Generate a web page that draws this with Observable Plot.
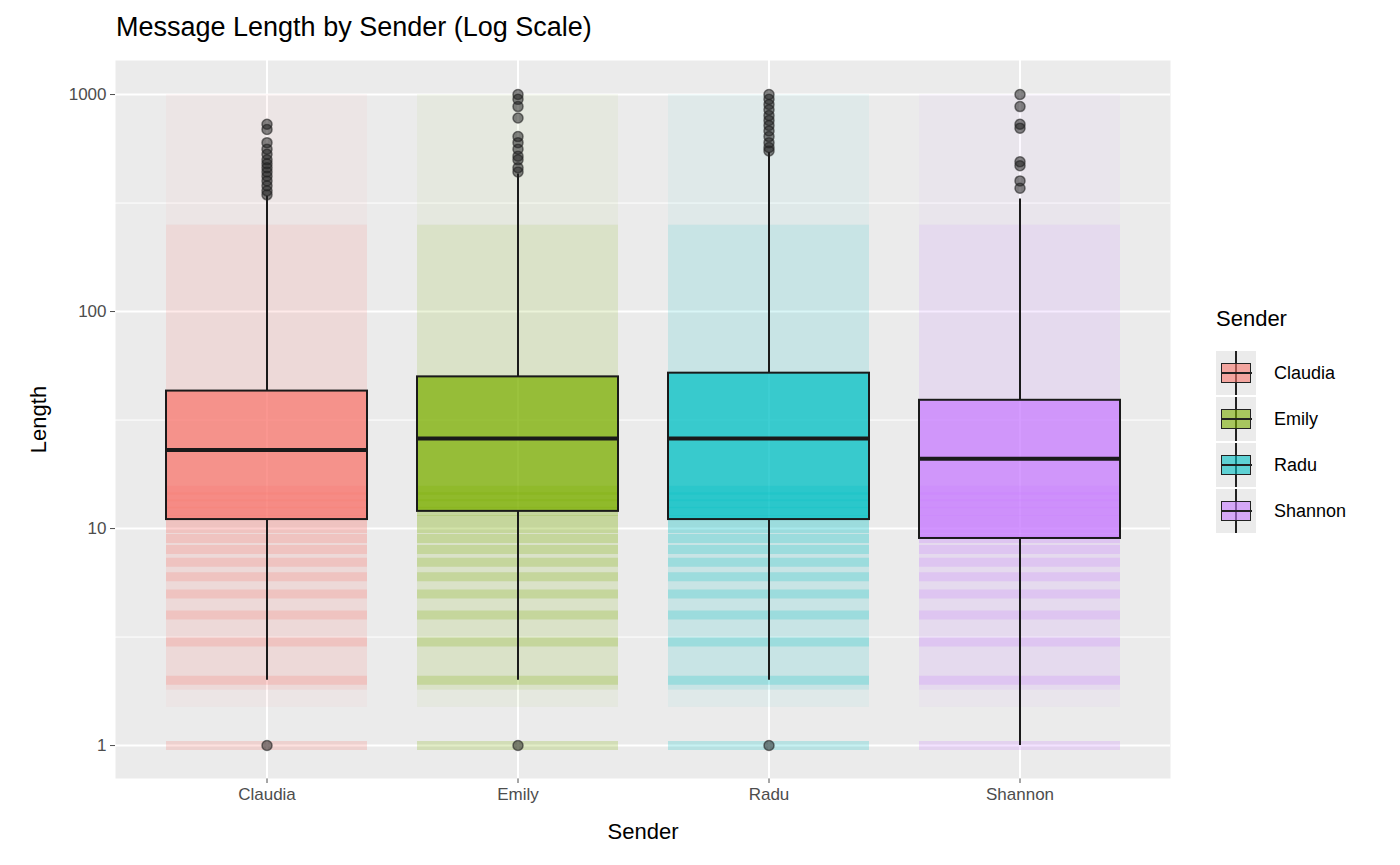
<!DOCTYPE html>
<html><head><meta charset="utf-8">
<script src="https://cdn.jsdelivr.net/npm/d3@7"></script>
<script src="https://cdn.jsdelivr.net/npm/@observablehq/plot@0.6"></script>
<style>
body{margin:0;background:#fff;font-family:"Liberation Sans",Arial,sans-serif;}
#wrap{position:relative;width:1400px;height:865px;}
#title{position:absolute;left:116px;top:12px;font-size:27px;color:#000;}
#legend{position:absolute;left:1216px;top:306px;font-size:22px;}
.item{display:flex;align-items:center;height:46px;font-size:18px;}
.key{width:40px;height:44px;background:#EBEBEB;position:relative;margin-right:18px;}
.key .b{position:absolute;left:5px;top:12px;width:28px;height:18px;border:1.5px solid #222;}
.key .m{position:absolute;left:5px;top:21px;width:31px;height:2px;background:#222;}
.key .v{position:absolute;left:19px;top:0;width:1.5px;height:44px;background:#222;}
</style></head><body>
<div id="wrap"><div id="title">Message Length by Sender (Log Scale)</div><div id="chart"></div>
<div id="legend"><div style="margin-bottom:18px">Sender</div></div></div>
<script>
const senders=["Claudia","Emily","Radu","Shannon"];
const colors=["#F8766D","#7CAE00","#00BFC4","#C77CFF"];
const q1=[11,12,11,9], med=[23,26,26,21], q3=[43,50,52,39];
const wLow=[2,2,2,1], wHigh=[340,430,540,330];
const outliers={
 Claudia:[1,345,360,380,400,420,440,460,480,500,530,560,600,690,730],
 Emily:[1,440,460,500,520,560,600,640,780,880,950,1000],
 Radu:[1,550,570,600,640,680,720,760,800,850,900,950,1000],
 Shannon:[370,400,470,490,700,730,880,1000]};
const levels=[1,2,3,4,5,6,7,8,9,10,11,12,13,14,15];
const boxes=senders.map((s,i)=>({s,q1:q1[i],med:med[i],q3:q3[i],lo:wLow[i],hi:wHigh[i]}));
const outs=senders.flatMap(s=>outliers[s].map(v=>({s,v})));
const rows=senders.flatMap(s=>levels.map(l=>({s,l})));
const clouds=senders.map(s=>({s,lo:1.8,hi:250}));
const clouds2=senders.map(s=>({s,lo:1.5,hi:1000}));
const col={domain:senders,range:colors};
const chart=Plot.plot({
 width:1190,height:865,marginLeft:115,marginRight:20,marginTop:60,marginBottom:87,
 style:{fontFamily:"Liberation Sans, Arial, sans-serif",fontSize:"17px",color:"#4D4D4D"},
 x:{domain:senders,padding:0.2,label:"Sender",labelAnchor:"center",labelOffset:60,tickSize:5,labelArrow:false},
 y:{type:"log",domain:[0.705,1435],ticks:[1,10,100,1000],tickFormat:d=>String(d),label:"Length",labelAnchor:"center",labelOffset:85,tickSize:5,labelArrow:false},
 color:col,
 marks:[
  Plot.frame({fill:"#EBEBEB",stroke:null}),
  Plot.ruleY([3.162,31.62,316.2],{stroke:"#fff",strokeWidth:1}),
  Plot.ruleY([1,10,100,1000],{stroke:"#fff",strokeWidth:2}),
  Plot.ruleX(senders,{stroke:"#fff",strokeWidth:2}),
  Plot.barY(clouds2,{x:"s",y1:"lo",y2:"hi",fill:"s",fillOpacity:0.05}),
  Plot.barY(clouds,{x:"s",y1:"lo",y2:"hi",fill:"s",fillOpacity:0.1}),
  Plot.tickY(rows,{x:"s",y:"l",stroke:"s",strokeWidth:9,strokeOpacity:0.22}),
  Plot.ruleX(boxes,{x:"s",y1:"lo",y2:"q1",stroke:"#1a1a1a",strokeWidth:2}),
  Plot.ruleX(boxes,{x:"s",y1:"q3",y2:"hi",stroke:"#1a1a1a",strokeWidth:2}),
  Plot.barY(boxes,{x:"s",y1:"q1",y2:"q3",fill:"s",fillOpacity:0.72,stroke:"#1a1a1a",strokeWidth:2}),
  Plot.tickY(boxes,{x:"s",y:"med",stroke:"#1a1a1a",strokeWidth:4}),
  Plot.dot(outs,{x:"s",y:"v",r:5,fill:"#222",fillOpacity:0.55,stroke:"#222",strokeOpacity:0.6})
 ]});
document.getElementById("chart").appendChild(chart);
chart.querySelectorAll('[aria-label="x-axis label"] text, [aria-label="y-axis label"] text').forEach(t=>{t.style.fontSize="22px";t.style.fill="#000";});
const lg=document.getElementById("legend");
senders.forEach((s,i)=>{const d=document.createElement("div");d.className="item";
 d.innerHTML=`<div class="key"><div class="v"></div><div class="b" style="background:${colors[i]}99"></div><div class="m"></div></div><span>${s}</span>`;lg.appendChild(d);});
</script></body></html>
